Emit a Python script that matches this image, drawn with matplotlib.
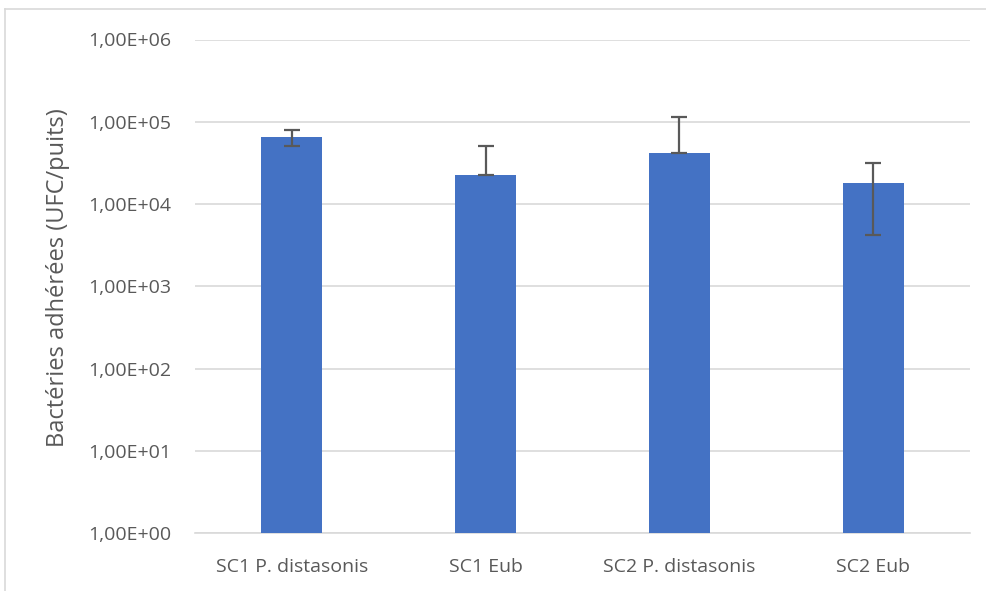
import matplotlib
matplotlib.use("Agg")
import matplotlib.pyplot as plt
from matplotlib.lines import Line2D
from matplotlib.ticker import FixedLocator, FuncFormatter
import numpy as np

categories = ["SC1 P. distasonis", "SC1 Eub", "SC2 P. distasonis", "SC2 Eub"]
means = [64700, 22300, 41300, 17850]
errors = [14500, 28800, 72000, 13650]
ytick_values = [1e0, 1e1, 1e2, 1e3, 1e4, 1e5, 1e6]
ytick_labels = ["1,00E+00", "1,00E+01", "1,00E+02", "1,00E+03", "1,00E+04", "1,00E+05", "1,00E+06"]
ylabel = "Bactéries adhérées (UFC/puits)"

plt.rcParams['font.family'] = ['Open Sans', 'DejaVu Sans']

W, H = 987, 591
fig = plt.figure(figsize=(W / 100, H / 100), dpi=100)
ax = fig.add_axes([195 / W, 1 - 533 / H, (970 - 195) / W, (533 - 39.5) / H])

x = np.arange(len(categories))
means_a = np.array(means, dtype=float)
err_a = np.array(errors, dtype=float)
lower = np.where(means_a - err_a <= 0, 0.0, err_a)
ax.bar(x, means_a, width=0.315, color="#4472C4", zorder=3)
ax.errorbar(x, means_a, yerr=[lower, err_a], fmt="none", ecolor="#595959",
            elinewidth=1.6, capsize=5.5, capthick=1.6, zorder=4)

ax.set_yscale("log")
ax.set_ylim(1e0, 1e6)
ax.set_xlim(-0.5, len(categories) - 0.5)
ax.yaxis.set_major_locator(FixedLocator(ytick_values))
ax.yaxis.set_major_formatter(FuncFormatter(lambda v, p: ytick_labels[ytick_values.index(v)] if v in ytick_values else ""))
ax.yaxis.set_minor_locator(FixedLocator([]))
ax.set_xticks(x)
ax.set_xticklabels(categories)

ax.grid(axis="y", color="#D9D9D9", linewidth=1.2, zorder=0)
for s in ["top", "right", "left"]:
    ax.spines[s].set_visible(False)
ax.spines["bottom"].set_color("#D9D9D9")
ax.spines["bottom"].set_linewidth(1.2)
ax.tick_params(axis="both", length=0, colors="#595959", labelsize=14)
ax.tick_params(axis="y", pad=17)
ax.tick_params(axis="x", pad=18)
ax.set_ylabel(ylabel, fontsize=17, color="#595959")
ax.yaxis.set_label_coords(-0.161, 0.518)

# chart area frame (top and left edges visible)
fig.add_artist(Line2D([5 / W, 1], [1 - 9 / H, 1 - 9 / H], transform=fig.transFigure, color="#D9D9D9", linewidth=1.2))
fig.add_artist(Line2D([5 / W, 5 / W], [0, 1 - 9 / H], transform=fig.transFigure, color="#D9D9D9", linewidth=1.2))

fig.savefig("out.png", dpi=100)
